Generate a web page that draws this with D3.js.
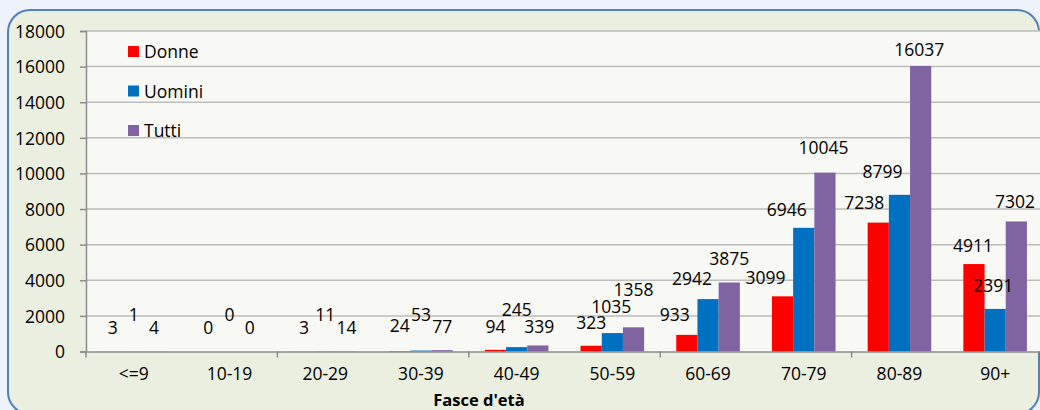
<!DOCTYPE html>
<html>
<head>
<meta charset="utf-8">
<script src="https://cdn.jsdelivr.net/npm/d3@7"></script>
<style>
  html, body { margin: 0; padding: 0; background: #eef3fb; }
  svg { display: block; font-family: "Open Sans", "Noto Sans", sans-serif; }
</style>
</head>
<body>
<svg id="chart" width="1040" height="410"></svg>
<script>
// age bands
const categories = ["<=9", "10-19", "20-29", "30-39", "40-49", "50-59", "60-69", "70-79", "80-89", "90+"];

// series values
const donne  = [3, 0, 3, 24, 94, 323, 933, 3099, 7238, 4911];
const uomini = [1, 0, 11, 53, 245, 1035, 2942, 6946, 8799, 2391];
const tutti  = [4, 0, 14, 77, 339, 1358, 3875, 10045, 16037, 7302];

const seriesNames = ["Donne", "Uomini", "Tutti"];
const yTicks = [0, 2000, 4000, 6000, 8000, 10000, 12000, 14000, 16000, 18000];

// label nudges (px) — labels in the original were dragged around by hand
const labelDx = [
    [0, 0, 0, 0, 0, 0, -12, -17, -14, -1],
    [0, 0, 0, 0, 0, -1, -16, -17, -17, -2],
    [-1, -1, 0, 0, 1.5, 0, 0, -1.5, -1.3, -1.3]
];
const labelDy = [
    [-24, -24, -24, -25, -23, -23.5, -20.5, -18.4, -20, -18.4],
    [-37, -37, -37, -36, -37, -26.8, -20.7, -18, -23, -23.4],
    [-24, -24, -24, -23.6, -18.3, -37.5, -23.4, -24.6, -16, -19.5]
];

const colors = { Donne: "#ff0000", Uomini: "#0070c0", Tutti: "#8064a2" };
const FONT = 17.5;

const svg = d3.select("#chart");
const margin = { left: 86, top: 31, right: 1043, bottom: 351.5 };

const table = categories.map((c, i) => ({
    cat: c,
    values: [donne[i], uomini[i], tutti[i]]
}));

// outer panel
svg.append("rect")
    .attr("x", 8).attr("y", 10)
    .attr("width", 1031).attr("height", 404)
    .attr("rx", 22).attr("ry", 22)
    .attr("fill", "#ebefdf")
    .attr("stroke", "#4f81bd")
    .attr("stroke-width", 2);

// plot area
svg.append("rect")
    .attr("x", margin.left).attr("y", margin.top)
    .attr("width", margin.right - margin.left)
    .attr("height", margin.bottom - margin.top)
    .attr("fill", "#f8f8f4");

const x0 = d3.scaleBand().domain(categories).range([margin.left, margin.right]).padding(0);
const x1 = d3.scaleBand().domain(seriesNames).range([0, x0.bandwidth()])
    .paddingInner(0).paddingOuter(0.757);
const y = d3.scaleLinear().domain([0, 18000]).range([margin.bottom, margin.top]);

// gridlines
svg.append("g")
    .selectAll("line")
    .data(yTicks.slice(1))
    .join("line")
    .attr("x1", margin.left).attr("x2", margin.right)
    .attr("y1", d => y(d)).attr("y2", d => y(d))
    .attr("stroke", "#bdbdbd")
    .attr("stroke-width", 1.5);

// bars
const groups = svg.append("g")
    .selectAll("g")
    .data(table)
    .join("g")
    .attr("transform", d => `translate(${x0(d.cat)},0)`);

groups.selectAll("rect")
    .data(d => d.values.map((v, k) => ({ key: seriesNames[k], value: v })))
    .join("rect")
    .attr("x", d => x1(d.key))
    .attr("width", x1.bandwidth())
    .attr("y", d => y(d.value))
    .attr("height", d => y(0) - y(d.value))
    .attr("fill", d => colors[d.key]);

// y axis
const yAxis = svg.append("g")
    .attr("transform", `translate(${margin.left},0)`)
    .call(d3.axisLeft(y).tickValues(yTicks).tickSize(6).tickPadding(15).tickFormat(d3.format("d")));
yAxis.select(".domain").attr("stroke", "#8c8c8c").attr("stroke-width", 1.5);
yAxis.selectAll(".tick line").attr("stroke", "#8c8c8c").attr("stroke-width", 1.5);
yAxis.selectAll("text")
    .attr("font-family", "'Open Sans', 'Noto Sans', sans-serif")
    .attr("font-size", FONT)
    .attr("fill", "#000")
    .attr("dy", "0.36em");

// x axis
const xAxis = svg.append("g")
    .attr("transform", `translate(0,${margin.bottom})`)
    .call(d3.axisBottom(x0).tickSize(0).tickPadding(22));
xAxis.select(".domain").attr("stroke", "#8c8c8c").attr("stroke-width", 1.5);
xAxis.selectAll("text")
    .attr("font-family", "'Open Sans', 'Noto Sans', sans-serif")
    .attr("font-size", FONT)
    .attr("fill", "#000")
    .attr("dy", "0.36em");

// x tick marks every second band boundary
svg.append("g")
    .selectAll("line")
    .data(categories.filter((c, i) => i % 2 === 0))
    .join("line")
    .attr("x1", d => x0(d)).attr("x2", d => x0(d))
    .attr("y1", margin.bottom).attr("y2", margin.bottom + 6)
    .attr("stroke", "#8c8c8c")
    .attr("stroke-width", 1.5);

// data labels
seriesNames.forEach((name, k) => {
    svg.append("g")
        .selectAll("text")
        .data(table)
        .join("text")
        .attr("x", (d, i) => x0(d.cat) + x1(name) + x1.bandwidth() / 2 + labelDx[k][i])
        .attr("y", (d, i) => y(d.values[k]) + labelDy[k][i])
        .attr("dy", "0.36em")
        .attr("text-anchor", "middle")
        .attr("font-size", FONT)
        .attr("fill", "#000")
        .text(d => d.values[k]);
});

// axis title
svg.append("text")
    .attr("x", 479).attr("y", 406)
    .attr("text-anchor", "middle")
    .attr("font-size", 16.5)
    .attr("font-weight", "bold")
    .attr("fill", "#000")
    .text("Fasce d'età");

// legend
const legend = svg.append("g")
    .selectAll("g")
    .data(seriesNames)
    .join("g")
    .attr("transform", (d, i) => `translate(128,${46 + i * 39.5})`);
legend.append("rect")
    .attr("width", 11).attr("height", 11)
    .attr("fill", d => colors[d]);
legend.append("text")
    .attr("x", 16).attr("y", 6)
    .attr("dy", "0.36em")
    .attr("font-size", FONT)
    .attr("fill", "#000")
    .text(d => d);
</script>
</body>
</html>
